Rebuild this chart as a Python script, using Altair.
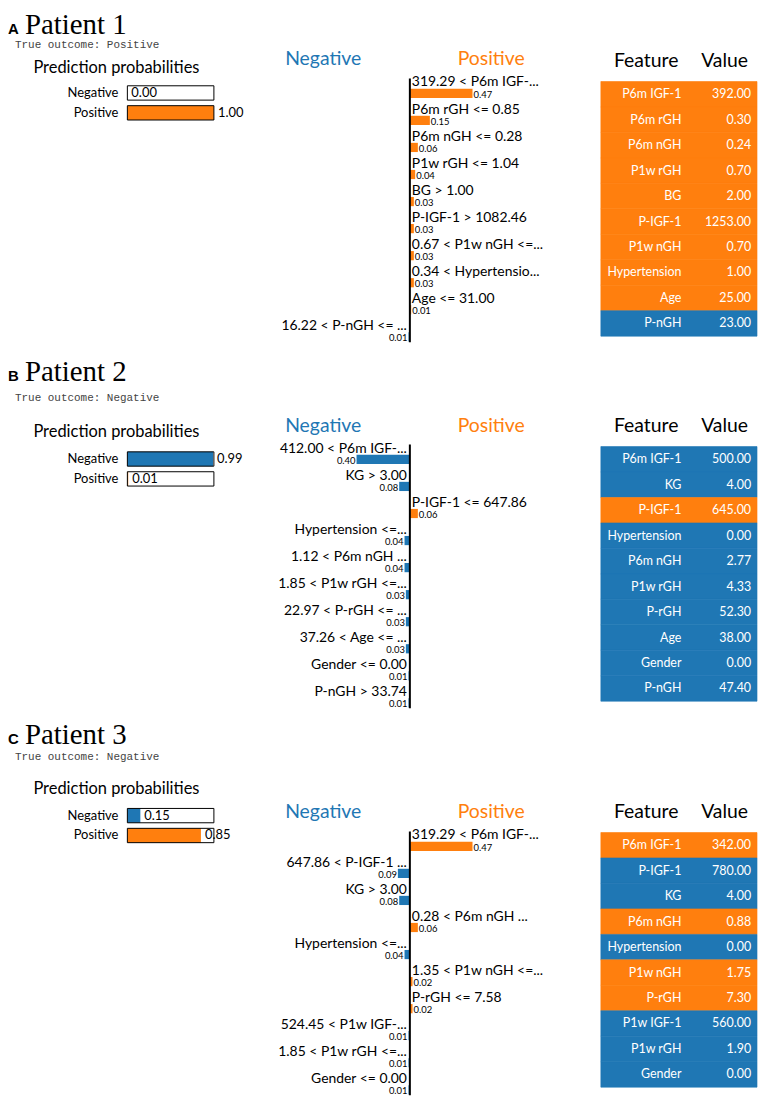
import altair as alt
import pandas as pd

# ---------------- data ----------------
classes = ["Negative", "Positive"]
outcomes = ["Positive", "Negative", "Negative"]
letters = ["A", "B", "C"]

probs1 = [0.00, 1.00]
probs2 = [0.99, 0.01]
probs3 = [0.15, 0.85]

rules1 = ["319.29 < P6m IGF-...", "P6m rGH <= 0.85", "P6m nGH <= 0.28", "P1w rGH <= 1.04",
          "BG > 1.00", "P-IGF-1 > 1082.46", "0.67 < P1w nGH <=...", "0.34 < Hypertensio...",
          "Age <= 31.00", "16.22 < P-nGH <= ..."]
weights1 = [0.47, 0.15, 0.06, 0.04, 0.03, 0.03, 0.03, 0.03, 0.01, -0.01]
feat1 = ["P6m IGF-1", "P6m rGH", "P6m nGH", "P1w rGH", "BG", "P-IGF-1", "P1w nGH",
         "Hypertension", "Age", "P-nGH"]
vals1 = ["392.00", "0.30", "0.24", "0.70", "2.00", "1253.00", "0.70", "1.00", "25.00", "23.00"]

rules2 = ["412.00 < P6m IGF-...", "KG > 3.00", "P-IGF-1 <= 647.86", "Hypertension <=...",
          "1.12 < P6m nGH ...", "1.85 < P1w rGH <=...", "22.97 < P-rGH <= ...",
          "37.26 < Age <= ...", "Gender <= 0.00", "P-nGH > 33.74"]
weights2 = [-0.40, -0.08, 0.06, -0.04, -0.04, -0.03, -0.03, -0.03, -0.01, -0.01]
feat2 = ["P6m IGF-1", "KG", "P-IGF-1", "Hypertension", "P6m nGH", "P1w rGH", "P-rGH",
         "Age", "Gender", "P-nGH"]
vals2 = ["500.00", "4.00", "645.00", "0.00", "2.77", "4.33", "52.30", "38.00", "0.00", "47.40"]

rules3 = ["319.29 < P6m IGF-...", "647.86 < P-IGF-1 ...", "KG > 3.00", "0.28 < P6m nGH ...",
          "Hypertension <=...", "1.35 < P1w nGH <=...", "P-rGH <= 7.58",
          "524.45 < P1w IGF-...", "1.85 < P1w rGH <=...", "Gender <= 0.00"]
weights3 = [0.47, -0.09, -0.08, 0.06, -0.04, 0.02, 0.02, -0.01, -0.01, -0.01]
feat3 = ["P6m IGF-1", "P-IGF-1", "KG", "P6m nGH", "Hypertension", "P1w nGH", "P-rGH",
         "P1w IGF-1", "P1w rGH", "Gender"]
vals3 = ["342.00", "780.00", "4.00", "0.88", "0.00", "1.75", "7.30", "560.00", "1.90", "0.00"]

# ---------------- style / layout ----------------
BLUE = "#1f77b4"
ORANGE = "#ff7f0e"
SANS = "Lato"
SERIF = "Liberation Serif"
MONO = "Liberation Mono"
LW, MW, RW = 262, 310, 184
SIGN_SCALE = alt.Scale(domain=["neg", "pos"], range=[BLUE, ORANGE])


def dom(px0, unit, size):
    return [-px0 / unit, (size - px0) / unit]


def left_chart(letter, num, outcome, probs, H, g):
    df = pd.DataFrame({"cls": classes, "p": probs, "c": [0, 1]})
    xs = alt.Scale(domain=dom(120, 87, LW), nice=False, zero=False)
    ys = alt.Scale(domain=dom(g["P0"], 20, H), nice=False, zero=False, reverse=True)
    base = alt.Chart(df).transform_calculate(y0="datum.c - 0.36", y1="datum.c + 0.36")
    fillbar = base.mark_rect().encode(
        x=alt.X("p:Q", scale=xs, axis=None), x2=alt.datum(0),
        y=alt.Y("y0:Q", scale=ys, axis=None), y2="y1:Q",
        color=alt.Color("cls:N", scale=alt.Scale(domain=classes, range=[BLUE, ORANGE]), legend=None))
    box = base.mark_rect(fillOpacity=0, stroke="black", strokeWidth=1).encode(
        x=alt.XDatum(0, scale=xs, axis=None), x2=alt.datum(1),
        y=alt.Y("y0:Q", scale=ys, axis=None), y2="y1:Q")
    vtxt = base.mark_text(align="left", baseline="middle", dx=4, font=SANS, fontSize=13).encode(
        x=alt.X("p:Q", scale=xs, axis=None), y=alt.Y("c:Q", scale=ys, axis=None),
        text=alt.Text("p:Q", format=".2f"))
    ctxt = base.mark_text(align="right", baseline="middle", dx=-9, font=SANS, fontSize=13).encode(
        x=alt.XDatum(0, scale=xs, axis=None), y=alt.Y("c:Q", scale=ys, axis=None), text="cls:N")
    t_letter = alt.Chart(pd.DataFrame({"t": [letter]})).mark_text(
        align="left", baseline="alphabetic", font="Liberation Sans", fontWeight="bold", fontSize=15
    ).encode(x=alt.value(0), y=alt.value(g["tb"]), text="t:N")
    t_pat = alt.Chart(pd.DataFrame({"t": ["Patient %d" % num]})).mark_text(
        align="left", baseline="alphabetic", font=SERIF, fontSize=29
    ).encode(x=alt.value(17), y=alt.value(g["tb"]), text="t:N")
    t_out = alt.Chart(pd.DataFrame({"t": ["True outcome:  " + outcome]})).mark_text(
        align="left", baseline="middle", font=MONO, fontSize=11, color="#444444"
    ).encode(x=alt.value(7), y=alt.value(g["to"]), text="t:N")
    t_pp = alt.Chart(pd.DataFrame({"t": ["Prediction probabilities"]})).mark_text(
        align="center", baseline="middle", font=SANS, fontSize=16.5, color="black"
    ).encode(x=alt.value(109), y=alt.value(g["pp"]), text="t:N")
    return alt.layer(fillbar, box, vtxt, ctxt, t_letter, t_pat, t_out, t_pp).properties(width=LW, height=H)


def mid_chart(rules, weights, H, g):
    df = pd.DataFrame({"rule": rules, "w": weights, "r": list(range(len(rules)))})
    xs = alt.Scale(domain=dom(142, 134, MW), nice=False, zero=False)
    ys = alt.Scale(domain=dom(g["L0"], 27.2, H), nice=False, zero=False, reverse=True)
    base = alt.Chart(df).transform_calculate(
        b0="datum.r + 0.23", b1="datum.r + 0.57", aw="abs(datum.w)",
        sgn="datum.w > 0 ? 'pos' : 'neg'")
    bars = base.mark_rect().encode(
        x=alt.X("w:Q", scale=xs, axis=None), x2=alt.datum(0),
        y=alt.Y("b0:Q", scale=ys, axis=None), y2="b1:Q",
        color=alt.Color("sgn:N", scale=SIGN_SCALE, legend=None))
    pos = base.transform_filter("datum.w > 0")
    neg = base.transform_filter("datum.w < 0")
    pos_lab = pos.mark_text(align="left", baseline="middle", dx=2, font=SANS, fontSize=14).encode(
        x=alt.XDatum(0, scale=xs, axis=None), y=alt.Y("r:Q", scale=ys, axis=None), text="rule:N")
    neg_lab = neg.mark_text(align="right", baseline="middle", dx=-3, font=SANS, fontSize=14).encode(
        x=alt.XDatum(0, scale=xs, axis=None), y=alt.Y("r:Q", scale=ys, axis=None), text="rule:N")
    pos_val = pos.mark_text(align="left", baseline="alphabetic", dx=1, font=SANS, fontSize=9.5).encode(
        x=alt.X("w:Q", scale=xs, axis=None), y=alt.Y("b1:Q", scale=ys, axis=None),
        text=alt.Text("aw:Q", format=".2f"))
    neg_val = neg.mark_text(align="right", baseline="alphabetic", dx=-1, font=SANS, fontSize=9.5).encode(
        x=alt.X("w:Q", scale=xs, axis=None), y=alt.Y("b1:Q", scale=ys, axis=None),
        text=alt.Text("aw:Q", format=".2f"))
    axis_line = alt.Chart(pd.DataFrame({"a": [0]})).mark_rule(color="black", strokeWidth=2).encode(
        x=alt.XDatum(0, scale=xs, axis=None), y=alt.YDatum(-0.15, scale=ys, axis=None), y2=alt.datum(9.6))
    h_neg = alt.Chart(pd.DataFrame({"t": ["Negative"]})).mark_text(
        align="center", baseline="middle", font=SANS, fontSize=19.5, color=BLUE
    ).encode(x=alt.XDatum(-0.65, scale=xs, axis=None), y=alt.YDatum(-0.85, scale=ys, axis=None), text="t:N")
    h_pos = alt.Chart(pd.DataFrame({"t": ["Positive"]})).mark_text(
        align="center", baseline="middle", font=SANS, fontSize=19.5, color=ORANGE
    ).encode(x=alt.XDatum(0.61, scale=xs, axis=None), y=alt.YDatum(-0.85, scale=ys, axis=None), text="t:N")
    return alt.layer(bars, pos_lab, neg_lab, pos_val, neg_val, axis_line, h_neg, h_pos).properties(
        width=MW, height=H)


def right_chart(feats, vals, weights, H, g):
    df = pd.DataFrame({"f": feats, "v": vals, "w": weights, "k": list(range(len(feats)))})
    xs = alt.Scale(domain=dom(24, 157, RW), nice=False, zero=False)
    ys = alt.Scale(domain=dom(g["T0"], 25.6, H), nice=False, zero=False, reverse=True)
    base = alt.Chart(df).transform_calculate(
        k1="datum.k + 1", kc="datum.k + 0.5", sgn="datum.w > 0 ? 'pos' : 'neg'")
    cells = base.mark_rect(strokeWidth=0.6).encode(
        x=alt.XDatum(0, scale=xs, axis=None), x2=alt.datum(1),
        y=alt.Y("k:Q", scale=ys, axis=None), y2="k1:Q",
        color=alt.Color("sgn:N", scale=SIGN_SCALE, legend=None),
        stroke=alt.Stroke("sgn:N", scale=SIGN_SCALE, legend=None))
    ftxt = base.mark_text(align="right", baseline="middle", font=SANS, fontSize=12.5, color="white").encode(
        x=alt.XDatum(0.516, scale=xs, axis=None), y=alt.Y("kc:Q", scale=ys, axis=None), text="f:N")
    vtxt = base.mark_text(align="right", baseline="middle", font=SANS, fontSize=12.5, color="white").encode(
        x=alt.XDatum(0.962, scale=xs, axis=None), y=alt.Y("kc:Q", scale=ys, axis=None), text="v:N")
    h_f = alt.Chart(pd.DataFrame({"t": ["Feature"]})).mark_text(
        align="right", baseline="middle", font=SANS, fontSize=19.5, color="black"
    ).encode(x=alt.XDatum(0.497, scale=xs, axis=None), y=alt.YDatum(-0.82, scale=ys, axis=None), text="t:N")
    h_v = alt.Chart(pd.DataFrame({"t": ["Value"]})).mark_text(
        align="right", baseline="middle", font=SANS, fontSize=19.5, color="black"
    ).encode(x=alt.XDatum(0.943, scale=xs, axis=None), y=alt.YDatum(-0.82, scale=ys, axis=None), text="t:N")
    return alt.layer(cells, ftxt, vtxt, h_f, h_v).properties(width=RW, height=H)


patients = [
    dict(num=1, probs=probs1, rules=rules1, w=weights1, feats=feat1, vals=vals1, H=337,
         g=dict(P0=82.5, tb=23, to=34, pp=57, L0=72, T0=71)),
    dict(num=2, probs=probs2, rules=rules2, w=weights2, feats=feat2, vals=vals2, H=375,
         g=dict(P0=113.5, tb=35, to=52, pp=86, L0=103, T0=101)),
    dict(num=3, probs=probs3, rules=rules3, w=weights3, feats=feat3, vals=vals3, H=378,
         g=dict(P0=97, tb=25, to=38, pp=70, L0=117, T0=114)),
]

rows = []
for i, pt in enumerate(patients):
    lc = left_chart(letters[i], pt["num"], outcomes[i], pt["probs"], pt["H"], pt["g"])
    mc = mid_chart(pt["rules"], pt["w"], pt["H"], pt["g"])
    rc = right_chart(pt["feats"], pt["vals"], pt["w"], pt["H"], pt["g"])
    rows.append(alt.hconcat(lc, mc, rc, spacing=0, bounds="flush"))

chart = alt.vconcat(*rows, spacing=0).properties(padding=0).configure_view(stroke=None)

chart.save("out.html", embed_options={"renderer": "svg", "actions": False})
